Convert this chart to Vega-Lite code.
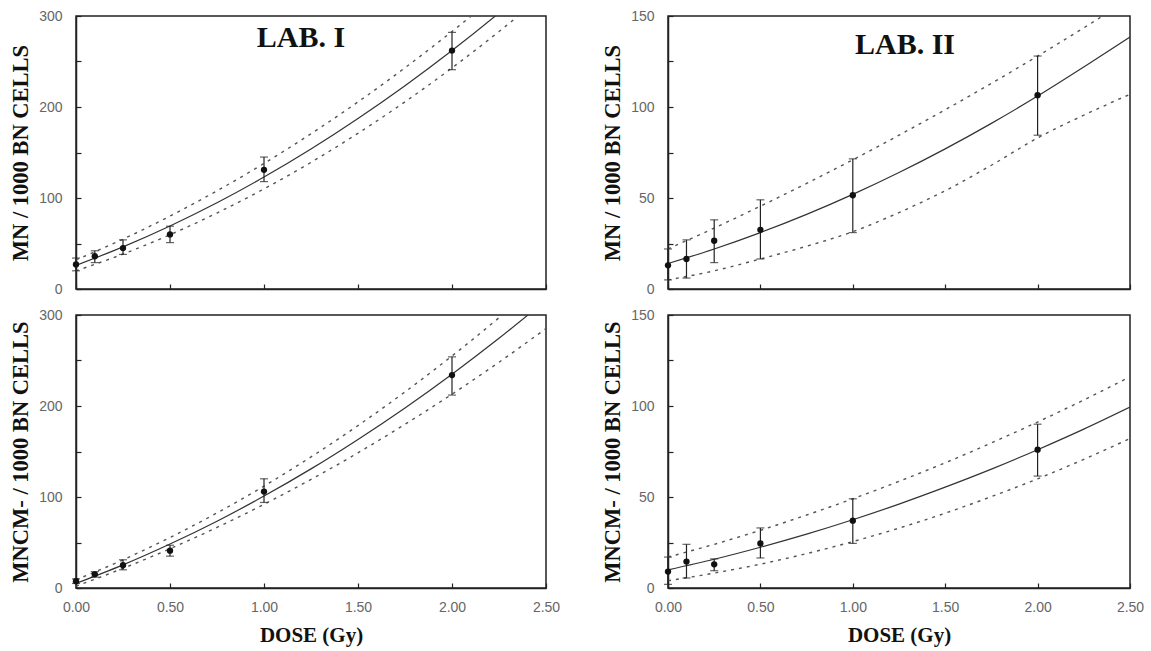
{
  "$schema": "https://vega.github.io/schema/vega-lite/v6.json",
  "background": "white",
  "padding": {"left": 8, "top": 8, "right": 10, "bottom": 5},
  "config": {
    "view": {"stroke": "#222", "strokeWidth": 1.5},
    "axis": {
      "grid": false,
      "domainColor": "#222",
      "domainWidth": 1.5,
      "tickColor": "#222",
      "tickSize": -5,
      "tickWidth": 1.2,
      "labelFont": "Liberation Sans",
      "labelColor": "#666",
      "labelFontSize": 14,
      "labelFlush": false,
      "titleFont": "Liberation Serif",
      "titleFontWeight": "bold",
      "titleColor": "#111"
    },
    "axisX": {"titleFontSize": 21},
    "axisY": {"titleFontSize": 22.5},
    "title": {"font": "Liberation Serif", "fontWeight": "bold", "fontSize": 30, "color": "#111"}
  },
  "datasets": {
    "pts": [
      {"panel": "A", "dose": 0, "value": 27, "lo": 20, "hi": 34},
      {"panel": "A", "dose": 0.1, "value": 36, "lo": 29, "hi": 42},
      {"panel": "A", "dose": 0.25, "value": 45, "lo": 38, "hi": 54},
      {"panel": "A", "dose": 0.5, "value": 60, "lo": 51, "hi": 69},
      {"panel": "A", "dose": 1.0, "value": 131, "lo": 118, "hi": 145},
      {"panel": "A", "dose": 2.0, "value": 262, "lo": 241, "hi": 282},
      {"panel": "B", "dose": 0, "value": 13, "lo": 5, "hi": 22},
      {"panel": "B", "dose": 0.1, "value": 16.5, "lo": 6, "hi": 27},
      {"panel": "B", "dose": 0.25, "value": 26.5, "lo": 14.5, "hi": 38},
      {"panel": "B", "dose": 0.5, "value": 32.5, "lo": 16.5, "hi": 49},
      {"panel": "B", "dose": 1.0, "value": 51.5, "lo": 31, "hi": 71.5},
      {"panel": "B", "dose": 2.0, "value": 106.5, "lo": 84.5, "hi": 128},
      {"panel": "C", "dose": 0, "value": 7.5, "lo": 5, "hi": 10},
      {"panel": "C", "dose": 0.1, "value": 15, "lo": 12, "hi": 18},
      {"panel": "C", "dose": 0.25, "value": 25, "lo": 20, "hi": 31},
      {"panel": "C", "dose": 0.5, "value": 41, "lo": 35, "hi": 47},
      {"panel": "C", "dose": 1.0, "value": 106, "lo": 94, "hi": 120},
      {"panel": "C", "dose": 2.0, "value": 234, "lo": 212, "hi": 254},
      {"panel": "D", "dose": 0, "value": 9, "lo": 2, "hi": 17},
      {"panel": "D", "dose": 0.1, "value": 14.5, "lo": 5.5, "hi": 24},
      {"panel": "D", "dose": 0.25, "value": 13, "lo": 9.5, "hi": 16},
      {"panel": "D", "dose": 0.5, "value": 24.5, "lo": 16.5, "hi": 33},
      {"panel": "D", "dose": 1.0, "value": 37, "lo": 24.5, "hi": 49},
      {"panel": "D", "dose": 2.0, "value": 76, "lo": 61.5, "hi": 90}
    ],
    "curves": [
      {"panel": "A", "band": "fit", "dose": 0, "value": 26},
      {"panel": "A", "band": "fit", "dose": 0.25, "value": 46.3},
      {"panel": "A", "band": "fit", "dose": 0.5, "value": 69.3},
      {"panel": "A", "band": "fit", "dose": 0.75, "value": 94.8},
      {"panel": "A", "band": "fit", "dose": 1.0, "value": 123},
      {"panel": "A", "band": "fit", "dose": 1.25, "value": 153.8},
      {"panel": "A", "band": "fit", "dose": 1.5, "value": 187.3},
      {"panel": "A", "band": "fit", "dose": 1.75, "value": 223.3},
      {"panel": "A", "band": "fit", "dose": 2.0, "value": 262},
      {"panel": "A", "band": "fit", "dose": 2.25, "value": 303.3},
      {"panel": "A", "band": "fit", "dose": 2.5, "value": 347},
      {"panel": "A", "band": "upper", "dose": 0, "value": 32},
      {"panel": "A", "band": "upper", "dose": 0.25, "value": 54.8},
      {"panel": "A", "band": "upper", "dose": 0.5, "value": 80.1},
      {"panel": "A", "band": "upper", "dose": 0.75, "value": 107.9},
      {"panel": "A", "band": "upper", "dose": 1.0, "value": 138},
      {"panel": "A", "band": "upper", "dose": 1.25, "value": 170.6},
      {"panel": "A", "band": "upper", "dose": 1.5, "value": 205.6},
      {"panel": "A", "band": "upper", "dose": 1.75, "value": 243.1},
      {"panel": "A", "band": "upper", "dose": 2.0, "value": 283},
      {"panel": "A", "band": "upper", "dose": 2.25, "value": 325.3},
      {"panel": "A", "band": "upper", "dose": 2.5, "value": 370.1},
      {"panel": "A", "band": "lower", "dose": 0, "value": 20},
      {"panel": "A", "band": "lower", "dose": 0.25, "value": 38.4},
      {"panel": "A", "band": "lower", "dose": 0.5, "value": 59.6},
      {"panel": "A", "band": "lower", "dose": 0.75, "value": 83.5},
      {"panel": "A", "band": "lower", "dose": 1.0, "value": 110},
      {"panel": "A", "band": "lower", "dose": 1.25, "value": 139.2},
      {"panel": "A", "band": "lower", "dose": 1.5, "value": 171.1},
      {"panel": "A", "band": "lower", "dose": 1.75, "value": 205.7},
      {"panel": "A", "band": "lower", "dose": 2.0, "value": 243},
      {"panel": "A", "band": "lower", "dose": 2.25, "value": 282.9},
      {"panel": "A", "band": "lower", "dose": 2.5, "value": 325.6},
      {"panel": "B", "band": "fit", "dose": 0, "value": 14},
      {"panel": "B", "band": "fit", "dose": 0.25, "value": 22},
      {"panel": "B", "band": "fit", "dose": 0.5, "value": 31},
      {"panel": "B", "band": "fit", "dose": 0.75, "value": 41},
      {"panel": "B", "band": "fit", "dose": 1.0, "value": 52},
      {"panel": "B", "band": "fit", "dose": 1.25, "value": 64},
      {"panel": "B", "band": "fit", "dose": 1.5, "value": 77},
      {"panel": "B", "band": "fit", "dose": 1.75, "value": 91},
      {"panel": "B", "band": "fit", "dose": 2.0, "value": 106},
      {"panel": "B", "band": "fit", "dose": 2.25, "value": 122},
      {"panel": "B", "band": "fit", "dose": 2.5, "value": 138.5},
      {"panel": "B", "band": "upper", "dose": 0, "value": 22},
      {"panel": "B", "band": "upper", "dose": 0.25, "value": 33.5},
      {"panel": "B", "band": "upper", "dose": 0.5, "value": 45.5},
      {"panel": "B", "band": "upper", "dose": 0.75, "value": 58},
      {"panel": "B", "band": "upper", "dose": 1.0, "value": 71},
      {"panel": "B", "band": "upper", "dose": 1.25, "value": 84.5},
      {"panel": "B", "band": "upper", "dose": 1.5, "value": 98.5},
      {"panel": "B", "band": "upper", "dose": 1.75, "value": 113},
      {"panel": "B", "band": "upper", "dose": 2.0, "value": 128},
      {"panel": "B", "band": "upper", "dose": 2.25, "value": 143.5},
      {"panel": "B", "band": "upper", "dose": 2.5, "value": 159.5},
      {"panel": "B", "band": "lower", "dose": 0, "value": 5},
      {"panel": "B", "band": "lower", "dose": 0.25, "value": 10},
      {"panel": "B", "band": "lower", "dose": 0.5, "value": 16.5},
      {"panel": "B", "band": "lower", "dose": 0.75, "value": 23.5},
      {"panel": "B", "band": "lower", "dose": 1.0, "value": 31.5},
      {"panel": "B", "band": "lower", "dose": 1.25, "value": 42},
      {"panel": "B", "band": "lower", "dose": 1.5, "value": 54},
      {"panel": "B", "band": "lower", "dose": 1.75, "value": 68},
      {"panel": "B", "band": "lower", "dose": 2.0, "value": 83},
      {"panel": "B", "band": "lower", "dose": 2.25, "value": 95.5},
      {"panel": "B", "band": "lower", "dose": 2.5, "value": 107},
      {"panel": "C", "band": "fit", "dose": 0, "value": 5},
      {"panel": "C", "band": "fit", "dose": 0.25, "value": 25.4},
      {"panel": "C", "band": "fit", "dose": 0.5, "value": 48.3},
      {"panel": "C", "band": "fit", "dose": 0.75, "value": 73.4},
      {"panel": "C", "band": "fit", "dose": 1.0, "value": 101},
      {"panel": "C", "band": "fit", "dose": 1.25, "value": 130.9},
      {"panel": "C", "band": "fit", "dose": 1.5, "value": 163.3},
      {"panel": "C", "band": "fit", "dose": 1.75, "value": 197.9},
      {"panel": "C", "band": "fit", "dose": 2.0, "value": 235},
      {"panel": "C", "band": "fit", "dose": 2.25, "value": 274.4},
      {"panel": "C", "band": "fit", "dose": 2.5, "value": 316.3},
      {"panel": "C", "band": "upper", "dose": 0, "value": 9},
      {"panel": "C", "band": "upper", "dose": 0.25, "value": 31},
      {"panel": "C", "band": "upper", "dose": 0.5, "value": 55.5},
      {"panel": "C", "band": "upper", "dose": 0.75, "value": 82.5},
      {"panel": "C", "band": "upper", "dose": 1.0, "value": 112},
      {"panel": "C", "band": "upper", "dose": 1.25, "value": 144},
      {"panel": "C", "band": "upper", "dose": 1.5, "value": 178.5},
      {"panel": "C", "band": "upper", "dose": 1.75, "value": 215.5},
      {"panel": "C", "band": "upper", "dose": 2.0, "value": 255},
      {"panel": "C", "band": "upper", "dose": 2.25, "value": 297},
      {"panel": "C", "band": "upper", "dose": 2.5, "value": 341.5},
      {"panel": "C", "band": "lower", "dose": 0, "value": 2},
      {"panel": "C", "band": "lower", "dose": 0.25, "value": 21.6},
      {"panel": "C", "band": "lower", "dose": 0.5, "value": 43.1},
      {"panel": "C", "band": "lower", "dose": 0.75, "value": 66.6},
      {"panel": "C", "band": "lower", "dose": 1.0, "value": 92},
      {"panel": "C", "band": "lower", "dose": 1.25, "value": 119.3},
      {"panel": "C", "band": "lower", "dose": 1.5, "value": 148.6},
      {"panel": "C", "band": "lower", "dose": 1.75, "value": 179.9},
      {"panel": "C", "band": "lower", "dose": 2.0, "value": 213},
      {"panel": "C", "band": "lower", "dose": 2.25, "value": 248.1},
      {"panel": "C", "band": "lower", "dose": 2.5, "value": 285.1},
      {"panel": "D", "band": "fit", "dose": 0, "value": 10},
      {"panel": "D", "band": "fit", "dose": 0.25, "value": 15.8},
      {"panel": "D", "band": "fit", "dose": 0.5, "value": 22.4},
      {"panel": "D", "band": "fit", "dose": 0.75, "value": 29.6},
      {"panel": "D", "band": "fit", "dose": 1.0, "value": 37.5},
      {"panel": "D", "band": "fit", "dose": 1.25, "value": 46.1},
      {"panel": "D", "band": "fit", "dose": 1.5, "value": 55.4},
      {"panel": "D", "band": "fit", "dose": 1.75, "value": 65.3},
      {"panel": "D", "band": "fit", "dose": 2.0, "value": 76},
      {"panel": "D", "band": "fit", "dose": 2.25, "value": 87.3},
      {"panel": "D", "band": "fit", "dose": 2.5, "value": 99.4},
      {"panel": "D", "band": "upper", "dose": 0, "value": 17},
      {"panel": "D", "band": "upper", "dose": 0.25, "value": 24},
      {"panel": "D", "band": "upper", "dose": 0.5, "value": 31.7},
      {"panel": "D", "band": "upper", "dose": 0.75, "value": 40.1},
      {"panel": "D", "band": "upper", "dose": 1.0, "value": 49},
      {"panel": "D", "band": "upper", "dose": 1.25, "value": 58.6},
      {"panel": "D", "band": "upper", "dose": 1.5, "value": 68.8},
      {"panel": "D", "band": "upper", "dose": 1.75, "value": 79.7},
      {"panel": "D", "band": "upper", "dose": 2.0, "value": 91.2},
      {"panel": "D", "band": "upper", "dose": 2.25, "value": 103.3},
      {"panel": "D", "band": "upper", "dose": 2.5, "value": 116.1},
      {"panel": "D", "band": "lower", "dose": 0, "value": 4},
      {"panel": "D", "band": "lower", "dose": 0.25, "value": 8.2},
      {"panel": "D", "band": "lower", "dose": 0.5, "value": 13.1},
      {"panel": "D", "band": "lower", "dose": 0.75, "value": 18.9},
      {"panel": "D", "band": "lower", "dose": 1.0, "value": 25.5},
      {"panel": "D", "band": "lower", "dose": 1.25, "value": 32.9},
      {"panel": "D", "band": "lower", "dose": 1.5, "value": 41.1},
      {"panel": "D", "band": "lower", "dose": 1.75, "value": 50.2},
      {"panel": "D", "band": "lower", "dose": 2.0, "value": 60},
      {"panel": "D", "band": "lower", "dose": 2.25, "value": 70.7},
      {"panel": "D", "band": "lower", "dose": 2.5, "value": 82.1}
    ]
  },
  "columns": 2,
  "spacing": {"row": 26, "column": 122},
  "bounds": "flush",
  "align": "each",
  "concat": [
    {
      "width": 470, "height": 273,
      "title": {"text": "LAB. I", "anchor": "middle", "offset": -44, "dx": -10},
      "encoding": {
        "x": {"field": "dose", "type": "quantitative", "scale": {"domain": [0, 2.5], "nice": false}, "axis": {"values": [0, 0.5, 1, 1.5, 2, 2.5], "labels": false, "title": null}}
      },
      "layer": [
        {"data": {"name": "curves"}, "transform": [{"filter": "datum.panel == 'A' && datum.band == 'fit'"}],
         "mark": {"type": "line", "clip": true, "interpolate": "monotone", "color": "#333", "strokeWidth": 1.2},
         "encoding": {"y": {"field": "value", "type": "quantitative", "scale": {"domain": [0, 300], "nice": false}, "title": "MN / 1000 BN CELLS", "axis": {"values": [0, 50, 100, 150, 200, 250, 300], "labelExpr": "datum.value % 100 == 0 ? datum.label : ''", "labelPadding": 19, "titlePadding": 6}}}},
        {"data": {"name": "curves"}, "transform": [{"filter": "datum.panel == 'A' && datum.band != 'fit'"}],
         "mark": {"type": "line", "clip": true, "interpolate": "monotone", "color": "#555", "strokeWidth": 1.4, "strokeDash": [3, 5]},
         "encoding": {"detail": {"field": "band"}, "y": {"field": "value", "type": "quantitative", "title": "MN / 1000 BN CELLS"}}},
        {"data": {"name": "pts"}, "transform": [{"filter": "datum.panel == 'A'"}],
         "mark": {"type": "rule", "color": "#222", "strokeWidth": 1.2},
         "encoding": {"y": {"field": "lo", "type": "quantitative", "title": "MN / 1000 BN CELLS"}, "y2": {"field": "hi"}}},
        {"data": {"name": "pts"}, "transform": [{"filter": "datum.panel == 'A'"}],
         "mark": {"type": "tick", "orient": "horizontal", "color": "#222", "size": 8, "thickness": 1.2},
         "encoding": {"y": {"field": "lo", "type": "quantitative", "title": "MN / 1000 BN CELLS"}}},
        {"data": {"name": "pts"}, "transform": [{"filter": "datum.panel == 'A'"}],
         "mark": {"type": "tick", "orient": "horizontal", "color": "#222", "size": 8, "thickness": 1.2},
         "encoding": {"y": {"field": "hi", "type": "quantitative", "title": "MN / 1000 BN CELLS"}}},
        {"data": {"name": "pts"}, "transform": [{"filter": "datum.panel == 'A'"}],
         "mark": {"type": "point", "filled": true, "color": "#111", "size": 40, "opacity": 1},
         "encoding": {"y": {"field": "value", "type": "quantitative", "title": "MN / 1000 BN CELLS"}}}
      ]
    },
    {
      "width": 462, "height": 273,
      "title": {"text": "LAB. II", "anchor": "middle", "offset": -51, "dx": 6},
      "encoding": {
        "x": {"field": "dose", "type": "quantitative", "scale": {"domain": [0, 2.5], "nice": false}, "axis": {"values": [0, 0.5, 1, 1.5, 2, 2.5], "labels": false, "title": null}}
      },
      "layer": [
        {"data": {"name": "curves"}, "transform": [{"filter": "datum.panel == 'B' && datum.band == 'fit'"}],
         "mark": {"type": "line", "clip": true, "interpolate": "monotone", "color": "#333", "strokeWidth": 1.2},
         "encoding": {"y": {"field": "value", "type": "quantitative", "scale": {"domain": [0, 150], "nice": false}, "title": "MN / 1000 BN CELLS", "axis": {"values": [0, 25, 50, 75, 100, 125, 150], "labelExpr": "datum.value % 50 == 0 ? datum.label : ''", "labelPadding": 19, "titlePadding": 6}}}},
        {"data": {"name": "curves"}, "transform": [{"filter": "datum.panel == 'B' && datum.band != 'fit'"}],
         "mark": {"type": "line", "clip": true, "interpolate": "monotone", "color": "#555", "strokeWidth": 1.4, "strokeDash": [3, 5]},
         "encoding": {"detail": {"field": "band"}, "y": {"field": "value", "type": "quantitative", "title": "MN / 1000 BN CELLS"}}},
        {"data": {"name": "pts"}, "transform": [{"filter": "datum.panel == 'B'"}],
         "mark": {"type": "rule", "color": "#222", "strokeWidth": 1.2},
         "encoding": {"y": {"field": "lo", "type": "quantitative", "title": "MN / 1000 BN CELLS"}, "y2": {"field": "hi"}}},
        {"data": {"name": "pts"}, "transform": [{"filter": "datum.panel == 'B'"}],
         "mark": {"type": "tick", "orient": "horizontal", "color": "#222", "size": 8, "thickness": 1.2},
         "encoding": {"y": {"field": "lo", "type": "quantitative", "title": "MN / 1000 BN CELLS"}}},
        {"data": {"name": "pts"}, "transform": [{"filter": "datum.panel == 'B'"}],
         "mark": {"type": "tick", "orient": "horizontal", "color": "#222", "size": 8, "thickness": 1.2},
         "encoding": {"y": {"field": "hi", "type": "quantitative", "title": "MN / 1000 BN CELLS"}}},
        {"data": {"name": "pts"}, "transform": [{"filter": "datum.panel == 'B'"}],
         "mark": {"type": "point", "filled": true, "color": "#111", "size": 40, "opacity": 1},
         "encoding": {"y": {"field": "value", "type": "quantitative", "title": "MN / 1000 BN CELLS"}}}
      ]
    },
    {
      "width": 470, "height": 273,
      "encoding": {
        "x": {"field": "dose", "type": "quantitative", "scale": {"domain": [0, 2.5], "nice": false}, "axis": {"values": [0, 0.5, 1, 1.5, 2, 2.5], "format": ".2f", "title": "DOSE (Gy)", "labelPadding": 17, "titlePadding": 10}}
      },
      "layer": [
        {"data": {"name": "curves"}, "transform": [{"filter": "datum.panel == 'C' && datum.band == 'fit'"}],
         "mark": {"type": "line", "clip": true, "interpolate": "monotone", "color": "#333", "strokeWidth": 1.2},
         "encoding": {"y": {"field": "value", "type": "quantitative", "scale": {"domain": [0, 300], "nice": false}, "title": "MNCM- / 1000 BN CELLS", "axis": {"values": [0, 50, 100, 150, 200, 250, 300], "labelExpr": "datum.value % 100 == 0 ? datum.label : ''", "labelPadding": 19, "titlePadding": 6}}}},
        {"data": {"name": "curves"}, "transform": [{"filter": "datum.panel == 'C' && datum.band != 'fit'"}],
         "mark": {"type": "line", "clip": true, "interpolate": "monotone", "color": "#555", "strokeWidth": 1.4, "strokeDash": [3, 5]},
         "encoding": {"detail": {"field": "band"}, "y": {"field": "value", "type": "quantitative", "title": "MNCM- / 1000 BN CELLS"}}},
        {"data": {"name": "pts"}, "transform": [{"filter": "datum.panel == 'C'"}],
         "mark": {"type": "rule", "color": "#222", "strokeWidth": 1.2},
         "encoding": {"y": {"field": "lo", "type": "quantitative", "title": "MNCM- / 1000 BN CELLS"}, "y2": {"field": "hi"}}},
        {"data": {"name": "pts"}, "transform": [{"filter": "datum.panel == 'C'"}],
         "mark": {"type": "tick", "orient": "horizontal", "color": "#222", "size": 8, "thickness": 1.2},
         "encoding": {"y": {"field": "lo", "type": "quantitative", "title": "MNCM- / 1000 BN CELLS"}}},
        {"data": {"name": "pts"}, "transform": [{"filter": "datum.panel == 'C'"}],
         "mark": {"type": "tick", "orient": "horizontal", "color": "#222", "size": 8, "thickness": 1.2},
         "encoding": {"y": {"field": "hi", "type": "quantitative", "title": "MNCM- / 1000 BN CELLS"}}},
        {"data": {"name": "pts"}, "transform": [{"filter": "datum.panel == 'C'"}],
         "mark": {"type": "point", "filled": true, "color": "#111", "size": 40, "opacity": 1},
         "encoding": {"y": {"field": "value", "type": "quantitative", "title": "MNCM- / 1000 BN CELLS"}}}
      ]
    },
    {
      "width": 462, "height": 273,
      "encoding": {
        "x": {"field": "dose", "type": "quantitative", "scale": {"domain": [0, 2.5], "nice": false}, "axis": {"values": [0, 0.5, 1, 1.5, 2, 2.5], "format": ".2f", "title": "DOSE (Gy)", "labelPadding": 17, "titlePadding": 10}}
      },
      "layer": [
        {"data": {"name": "curves"}, "transform": [{"filter": "datum.panel == 'D' && datum.band == 'fit'"}],
         "mark": {"type": "line", "clip": true, "interpolate": "monotone", "color": "#333", "strokeWidth": 1.2},
         "encoding": {"y": {"field": "value", "type": "quantitative", "scale": {"domain": [0, 150], "nice": false}, "title": "MNCM- / 1000 BN CELLS", "axis": {"values": [0, 25, 50, 75, 100, 125, 150], "labelExpr": "datum.value % 50 == 0 ? datum.label : ''", "labelPadding": 19, "titlePadding": 6}}}},
        {"data": {"name": "curves"}, "transform": [{"filter": "datum.panel == 'D' && datum.band != 'fit'"}],
         "mark": {"type": "line", "clip": true, "interpolate": "monotone", "color": "#555", "strokeWidth": 1.4, "strokeDash": [3, 5]},
         "encoding": {"detail": {"field": "band"}, "y": {"field": "value", "type": "quantitative", "title": "MNCM- / 1000 BN CELLS"}}},
        {"data": {"name": "pts"}, "transform": [{"filter": "datum.panel == 'D'"}],
         "mark": {"type": "rule", "color": "#222", "strokeWidth": 1.2},
         "encoding": {"y": {"field": "lo", "type": "quantitative", "title": "MNCM- / 1000 BN CELLS"}, "y2": {"field": "hi"}}},
        {"data": {"name": "pts"}, "transform": [{"filter": "datum.panel == 'D'"}],
         "mark": {"type": "tick", "orient": "horizontal", "color": "#222", "size": 8, "thickness": 1.2},
         "encoding": {"y": {"field": "lo", "type": "quantitative", "title": "MNCM- / 1000 BN CELLS"}}},
        {"data": {"name": "pts"}, "transform": [{"filter": "datum.panel == 'D'"}],
         "mark": {"type": "tick", "orient": "horizontal", "color": "#222", "size": 8, "thickness": 1.2},
         "encoding": {"y": {"field": "hi", "type": "quantitative", "title": "MNCM- / 1000 BN CELLS"}}},
        {"data": {"name": "pts"}, "transform": [{"filter": "datum.panel == 'D'"}],
         "mark": {"type": "point", "filled": true, "color": "#111", "size": 40, "opacity": 1},
         "encoding": {"y": {"field": "value", "type": "quantitative", "title": "MNCM- / 1000 BN CELLS"}}}
      ]
    }
  ]
}
